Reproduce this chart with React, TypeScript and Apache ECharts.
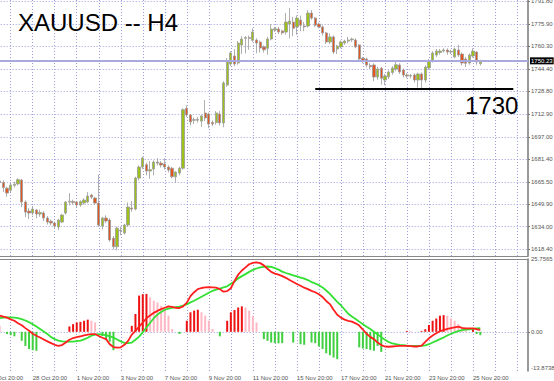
import React, { useEffect, useRef } from "react";
import * as echarts from "echarts";

// ---------- data ----------
const FIRST_BAR = 3; // index of the first candle slot drawn in the data arrays
const SLOT_COUNT = 148;

const X_TICK_LABELS = [
  "26 Oct 20:00", "28 Oct 20:00", "1 Nov 20:00", "3 Nov 20:00", "7 Nov 20:00", "9 Nov 20:00",
  "11 Nov 20:00", "15 Nov 20:00", "17 Nov 20:00", "21 Nov 20:00", "23 Nov 20:00", "25 Nov 20:00",
];

const PRICE_TICKS = [1618.4, 1634.0, 1649.9, 1665.5, 1681.4, 1697.0, 1712.9, 1728.8, 1744.4, 1760.3, 1775.9, 1791.8];
const PRICE_MIN = 1613.5;
const PRICE_MAX = 1792.85;
const LAST_PRICE = 1750.23;
const SUPPORT_LEVEL = 1731;
const SUPPORT_FROM = 89;
const SUPPORT_TO = 143;

const IND_MAX = 25.7565;
const IND_MIN = -13.8738;
const IND_TICKS = [IND_MAX, 0, IND_MIN];
const IND_TICK_LABELS = ["25.7565", "0.00", "-13.8738"];

// [open, close, low, high]
const OHLC: number[][] = [
  [1666, 1665, 1662, 1668], [1665, 1661.5, 1658.3, 1666.5], [1661, 1657.6, 1655, 1662], [1659.6, 1663.2, 1657.5, 1665],
  [1663, 1663.8, 1661.5, 1665.5], [1664, 1667, 1663, 1668], [1666.7, 1651.3, 1647.8, 1667.5], [1651.3, 1644.3, 1640.8, 1652.5],
  [1645, 1643.6, 1639.5, 1647], [1643.6, 1646.4, 1642, 1648.5], [1645.7, 1642.9, 1640, 1646.5], [1642.9, 1643.9, 1641, 1646],
  [1643.6, 1640.1, 1638, 1645], [1640.1, 1637.3, 1635.5, 1641.5], [1637.9, 1636.6, 1635, 1639], [1636.6, 1634.5, 1632.5, 1637.5],
  [1633.8, 1638.7, 1631.6, 1639.5], [1637.3, 1642.2, 1636.5, 1643], [1643.6, 1651.3, 1642.5, 1652], [1651.3, 1651.9, 1649, 1657.6],
  [1651.6, 1650.9, 1649.5, 1653], [1651.3, 1649.2, 1647, 1652], [1649.2, 1651.6, 1648, 1652.5], [1650.6, 1652.7, 1649.5, 1654],
  [1651.3, 1655.5, 1650.5, 1658.3], [1656.2, 1654.8, 1653.5, 1657], [1654.1, 1650.6, 1649.5, 1655], [1650.6, 1635.2, 1634, 1670.5],
  [1634.5, 1640.1, 1632, 1641], [1640.1, 1638, 1636.5, 1642], [1638.7, 1624.7, 1623.5, 1640], [1626, 1620, 1618, 1627.5],
  [1620, 1633, 1617.5, 1634], [1631, 1631.5, 1628, 1634], [1629.6, 1635.2, 1628.5, 1636], [1635.2, 1647.8, 1634, 1651],
  [1647.1, 1646.4, 1644.5, 1652], [1646.4, 1668.1, 1645.5, 1669], [1668.1, 1675.8, 1666.5, 1677], [1675.8, 1682.2, 1674.5, 1683],
  [1677.5, 1673, 1670, 1679], [1673, 1674, 1667.5, 1680], [1674.4, 1679.3, 1670, 1680.5], [1679.3, 1678.6, 1677, 1682],
  [1678.6, 1677.2, 1675.5, 1680], [1678, 1675.8, 1674, 1682], [1675.8, 1673.7, 1672, 1677], [1675, 1669, 1668, 1676],
  [1669, 1672.3, 1665, 1673], [1671.6, 1675, 1670, 1676], [1675, 1716, 1674, 1717], [1717, 1712.3, 1711, 1719],
  [1712.3, 1707.4, 1705, 1713], [1709, 1708.6, 1706, 1710.5], [1708.6, 1709.2, 1707, 1711], [1708, 1711.6, 1703.9, 1712.5],
  [1713.7, 1710.2, 1708, 1722.8], [1713, 1706, 1703, 1714], [1707, 1706, 1704.5, 1708.5], [1707, 1713.7, 1705.5, 1715],
  [1713, 1706.7, 1705, 1715], [1706.7, 1734.7, 1703.7, 1736], [1733.3, 1749.4, 1732, 1752.2], [1748, 1755.7, 1746.5, 1757],
  [1753.6, 1748, 1746.5, 1758.5], [1748.7, 1762.7, 1747.5, 1764], [1761.3, 1765.5, 1755, 1767.5], [1766, 1766.5, 1755.5, 1767.5],
  [1766.5, 1766, 1758, 1768], [1764.6, 1770.4, 1763.5, 1773], [1764.8, 1762.7, 1755.5, 1766], [1763.4, 1759.2, 1756, 1764.5],
  [1760, 1758, 1756, 1761], [1759, 1765.5, 1754.5, 1767], [1765.5, 1772.5, 1764.5, 1776], [1771.8, 1772.7, 1770.5, 1774],
  [1772.5, 1770.5, 1769, 1774], [1771.2, 1769.8, 1768.5, 1772], [1770.4, 1777.4, 1768.5, 1783.7], [1776, 1778.1, 1766, 1787.2],
  [1777.4, 1773, 1767.5, 1781], [1774, 1780.2, 1768.5, 1782], [1778.8, 1775.2, 1771, 1782], [1774.6, 1774, 1771, 1777.5],
  [1774.6, 1783.7, 1773.5, 1785.8], [1783.7, 1780.2, 1779, 1785.8], [1780.2, 1775.2, 1774, 1781], [1776, 1774, 1773, 1777],
  [1774, 1769.8, 1768, 1775], [1769.8, 1763.4, 1762, 1770.5], [1763.4, 1767, 1762, 1769.5], [1767, 1756.4, 1755, 1768],
  [1758.5, 1760.6, 1755, 1761.5], [1760, 1763.4, 1759, 1764.5], [1762.7, 1764.1, 1761.5, 1765], [1764.1, 1764.8, 1762.5, 1767],
  [1765, 1765.5, 1763.5, 1766.5], [1764.8, 1760, 1759, 1766], [1761.3, 1751.5, 1750.5, 1762], [1752, 1750, 1748.5, 1753],
  [1751.5, 1747.3, 1745.5, 1752.5], [1747, 1746, 1744.5, 1748.5], [1747.3, 1738.9, 1736, 1748.5], [1738.9, 1744.5, 1737, 1746],
  [1745, 1738, 1733.5, 1746], [1736.8, 1739.6, 1733, 1741], [1739, 1742.4, 1737.5, 1743.5], [1742, 1745.2, 1740.5, 1746.5],
  [1744.5, 1747.5, 1743, 1750], [1747.3, 1742.4, 1741, 1748.5], [1743.8, 1740.3, 1738.5, 1745], [1740.3, 1739.6, 1738, 1741.5],
  [1739.6, 1739.9, 1738, 1741], [1740.3, 1736.8, 1735, 1741.5], [1736.8, 1741, 1731.5, 1742], [1741, 1736.8, 1731, 1742],
  [1736.8, 1745.9, 1735, 1747], [1745.2, 1750.2, 1744, 1751.5], [1750.2, 1755.7, 1749, 1757], [1754.3, 1757.1, 1753, 1758.5],
  [1756, 1757.1, 1754.5, 1758.5], [1757.1, 1757.8, 1756, 1759], [1757.8, 1756.4, 1754.5, 1759], [1756.4, 1756.8, 1755, 1758],
  [1753, 1758.5, 1752, 1759.5], [1757.8, 1754.3, 1753, 1761.5], [1755, 1748.7, 1747, 1756], [1751.5, 1748.5, 1746, 1753],
  [1748.7, 1754.3, 1747.5, 1755.5], [1753.6, 1757.1, 1752.5, 1759], [1756.4, 1749.4, 1747.5, 1757], [1748.2, 1750.2, 1747, 1751],
];

const HISTOGRAM = [
  2.1, 0, -0.8, -1.2, -1.6, 0, -3.2, -5.0, -6.1, -6.5,
  -6.7, 0, 0, 0, 0, 0, 0, 0, 0, 1.9,
  2.7, 3.3, 3.5, 3.9, 4.3, 3.9, 3.3, 0, -1.5, -2.8,
  -3.5, -6.5, 0, 0, 0, 0, 2.1, 6.3, 12.8, 13.3,
  13.4, 12.2, 11.0, 10.4, 9.2, 8.0, 5.7, 1.0, 0, -0.8,
  0, 3.9, 6.9, 7.5, 7.8, 6.9, 5.7, 3.9, 1.0, 0,
  -1.6, 0, 3.9, 6.9, 7.7, 8.6, 9.0, 8.6, 7.5, 5.7,
  3.3, 0, -2.6, -3.2, -3.8, -4.0, -4.1, -4.0, 0, 0,
  -3.8, 0, -4.4, -4.6, 0, -3.8, -4.0, -5.2, -6.1, -7.6,
  -8.3, -9.1, -9.7, 0, 0, 0, 0, 0, -5.5, -5.9,
  -6.1, -6.4, -6.7, -5.0, -7.1, 0, 0, 0, 0, 0,
  0, 0.3, 0.3, 0, 0, 0.3, 0.9, 2.4, 3.9, 4.7,
  5.7, 5.9, 5.7, 4.7, 3.9, 2.7, 1.5, 0.9, 0, 0.9,
  -0.8, -1.2,
];

const FAST_LINE = [
  5.7, 5.4, 5.0, 4.4, 3.9, 3.0, 2.3, 1.3, 0.4, -0.7,
  -1.4, -2.0, -2.7, -3.4, -4.0, -4.6, -5.0, -4.7, -3.8, -2.8,
  -2.2, -1.9, -1.6, -1.3, -1.0, -0.8, -0.8, -1.5, -2.1, -2.6,
  -4.4, -5.4, -5.6, -5.5, -4.6, -3.2, -1.0, 0.3, 1.8, 3.3,
  4.8, 5.8, 6.7, 7.4, 8.0, 8.5, 9.0, 8.8, 8.5, 8.4,
  9.0, 10.3, 12.6, 14.0, 15.1, 15.5, 15.7, 15.8, 15.7, 15.6,
  15.1, 14.2, 14.4, 15.4, 18.0, 20.2, 21.7, 22.8, 23.9, 24.4,
  24.6, 24.3, 23.5, 22.3, 21.2, 20.6, 20.2, 19.7, 19.1, 18.3,
  17.6, 16.9, 16.3, 15.6, 15.1, 14.5, 14.0, 13.3, 12.3, 10.9,
  9.8, 7.8, 6.0, 5.0, 4.3, 3.9, 3.6, 3.0, 2.2, 0.8,
  -0.7, -1.8, -2.6, -3.8, -4.7, -5.2, -5.3, -5.2, -5.1, -5.0,
  -5.0, -5.0, -5.1, -5.2, -5.2, -4.9, -3.6, -2.3, -1.3, -0.5,
  0.2, 0.6, 1.0, 1.3, 1.6, 1.8, 1.4, 1.2, 1.2, 1.2,
  0.9, 0.7,
];

const SLOW_LINE = [
  4.8, 5.0, 5.1, 5.1, 5.0, 4.8, 4.5, 4.0, 3.4, 2.7,
  1.9, 1.0, 0.1, -0.8, -1.9, -2.6, -3.1, -3.4, -3.5, -3.5,
  -3.5, -3.3, -3.1, -2.7, -2.1, -1.4, -1.0, -0.8, -1.0, -1.2,
  -1.6, -2.0, -2.7, -3.4, -3.9, -4.0, -3.8, -2.8, -1.7, -0.2,
  1.5, 3.2, 4.8, 6.1, 7.0, 7.8, 8.2, 8.5, 8.7, 8.9,
  9.3, 9.7, 10.4, 11.0, 11.7, 12.4, 13.1, 13.8, 14.5, 14.9,
  15.3, 15.7, 16.1, 17.0, 17.8, 18.9, 19.7, 20.4, 21.2, 21.9,
  22.4, 22.8, 23.0, 23.1, 23.0, 22.5, 22.0, 21.3, 20.8, 20.4,
  20.0, 19.6, 19.2, 18.8, 18.3, 17.6, 17.1, 16.5, 15.7, 14.6,
  13.4, 12.0, 10.6, 9.4, 7.9, 6.4, 5.4, 4.5, 3.6, 2.7,
  1.8, 1.0, 0.0, -0.9, -1.9, -2.8, -3.6, -4.1, -4.4, -4.6,
  -4.7, -4.9, -5.0, -5.0, -5.0, -5.0, -4.8, -4.4, -3.8, -3.2,
  -2.6, -2.0, -1.3, -0.7, -0.2, 0.2, 0.6, 0.8, 0.9, 1.0,
  1.2, 1.3,
];

// ---------- styles ----------
const FONT = "'Liberation Sans', Arial, sans-serif";
const GRID_COLOR = "#9c9cdc";
const AXIS_COLOR = "#777777";
const LABEL_COLOR = "#555555";
const BULL = "#9cc21a";
const BEAR = "#e2561e";
const WICK = "#9a9a9a";

function pad<T>(arr: T[], fill: any) {
  return Array.from({ length: SLOT_COUNT }, (_, i) => {
    const k = i - FIRST_BAR;
    return k >= 0 && k < arr.length ? arr[k] : fill;
  });
}

export default function App() {
  const ref = useRef<HTMLDivElement>(null);

  useEffect(() => {
    if (!ref.current) return;
    const chart = echarts.init(ref.current, undefined, { renderer: "svg" });
    const categories = Array.from({ length: SLOT_COUNT }, (_, i) => String(i));
    const dotted = { color: GRID_COLOR, width: 1, type: [1, 2] as any };
    const xLabel = (v: string) => {
      const i = Number(v);
      return i % 12 === 0 ? X_TICK_LABELS[i / 12] ?? "" : "";
    };

    const histData = pad(
      HISTOGRAM.map((v, k) => {
        const prev = k > 0 ? HISTOGRAM[k - 1] : Infinity;
        const color = v < 0 ? "#3fcf3f" : v > prev ? "#ee1111" : "#ffb8c4";
        return { value: v, itemStyle: { color } };
      }),
      "-"
    );

    chart.setOption({
      animation: false,
      textStyle: { fontFamily: FONT },
      grid: [
        { left: -11.3, right: 26, top: 0, height: 256, containLabel: false, outerBoundsMode: "none" },
        { left: -11.3, right: 26, top: 259, height: 112, containLabel: false, outerBoundsMode: "none" },
      ],
      xAxis: [
        {
          gridIndex: 0, type: "category", data: categories, boundaryGap: false,
          axisLine: { show: true, lineStyle: { color: "#888", width: 1 } },
          axisTick: { show: false }, axisLabel: { show: false },
          splitLine: { show: true, interval: 5, lineStyle: dotted },
        },
        {
          gridIndex: 1, type: "category", data: categories, boundaryGap: false,
          axisLine: { show: false }, axisTick: { show: false },
          axisLabel: {
            show: true, interval: 11, align: "left", fontSize: 6, color: LABEL_COLOR, margin: 4,
            fontFamily: FONT, formatter: xLabel, hideOverlap: false,
          },
          splitLine: { show: true, interval: 5, lineStyle: dotted },
        },
        {
          gridIndex: 1, type: "category", data: categories, boundaryGap: false, position: "top",
          axisLine: { show: true, lineStyle: { color: "#888", width: 1 } },
          axisTick: { show: false }, axisLabel: { show: false }, splitLine: { show: false },
        },
      ],
      yAxis: [
        {
          gridIndex: 0, type: "value", position: "right", min: PRICE_MIN, max: PRICE_MAX, scale: true,
          axisLine: { show: true, lineStyle: { color: AXIS_COLOR, width: 1.5 } },
          axisTick: { show: true, length: 2, customValues: PRICE_TICKS, lineStyle: { color: AXIS_COLOR } },
          axisLabel: {
            show: true, customValues: PRICE_TICKS, fontSize: 6, color: LABEL_COLOR, margin: 3, fontFamily: FONT,
            formatter: (v: number) => v.toFixed(2),
          },
          splitLine: { show: true, lineStyle: dotted },
        },
        {
          gridIndex: 1, type: "value", position: "right", min: IND_MIN, max: IND_MAX,
          axisLine: { show: true, lineStyle: { color: AXIS_COLOR, width: 1.5 } },
          axisTick: { show: true, length: 2, customValues: [0], lineStyle: { color: AXIS_COLOR } },
          axisLabel: {
            show: true, customValues: IND_TICKS, fontSize: 6, color: LABEL_COLOR, margin: 3, fontFamily: FONT,
            formatter: (v: number) => {
              const k = IND_TICKS.indexOf(v);
              const s = k >= 0 ? IND_TICK_LABELS[k] : "";
              return v === IND_MIN ? "{low|" + s + "}" : s;
            },
            rich: { low: { fontSize: 6, color: LABEL_COLOR, padding: [0, 0, 7, 0] } },
          },
          splitLine: { show: true, lineStyle: dotted },
        },
      ],
      series: [
        {
          type: "candlestick", xAxisIndex: 0, yAxisIndex: 0,
          data: pad(OHLC, "-"), barWidth: 2.8,
          itemStyle: { color: BULL, color0: BEAR, borderColor: WICK, borderColor0: WICK, borderWidth: 0.8 },
          emphasis: { disabled: true },
          markLine: {
            silent: true, symbol: "none", animation: false,
            data: [
              {
                yAxis: LAST_PRICE,
                lineStyle: { color: "#a9a9dd", width: 2, type: "solid" },
                label: {
                  show: true, position: "end", distance: 2, formatter: LAST_PRICE.toFixed(2),
                  backgroundColor: "#000", color: "#fff", fontSize: 6, padding: [1, 1, 0, 1], fontFamily: FONT,
                },
              },
              [
                { coord: [String(SUPPORT_FROM), SUPPORT_LEVEL], lineStyle: { color: "#000", width: 2, type: "solid" }, label: { show: false } },
                { coord: [String(SUPPORT_TO), SUPPORT_LEVEL] },
              ],
            ],
          },
        },
        {
          type: "bar", xAxisIndex: 1, yAxisIndex: 1, data: histData, barWidth: 2,
          emphasis: { disabled: true },
        },
        {
          type: "line", xAxisIndex: 1, yAxisIndex: 1, data: pad(SLOW_LINE, null), symbol: "none",
          lineStyle: { color: "#33e033", width: 1.8 }, emphasis: { disabled: true },
        },
        {
          type: "line", xAxisIndex: 1, yAxisIndex: 1, data: pad(FAST_LINE, null), symbol: "none",
          lineStyle: { color: "#ff1f1f", width: 1.8 }, emphasis: { disabled: true },
        },
      ],
      graphic: [
        {
          type: "text", x: 18, y: 22.5, z: 100, silent: true,
          style: { text: "XAUUSD -- H4", fontSize: 24, fontFamily: FONT, fill: "#000", align: "left", verticalAlign: "middle" },
        },
        {
          type: "text", x: 465, y: 105.8, z: 100, silent: true,
          style: { text: "1730", fontSize: 24, fontFamily: FONT, fill: "#000", align: "left", verticalAlign: "middle" },
        },
      ],
    });
    return () => chart.dispose();
  }, []);

  return (
    <div
      ref={ref}
      style={{ position: "absolute", left: 0, top: 0, width: 554, height: 381, background: "#fff" }}
    />
  );
}
